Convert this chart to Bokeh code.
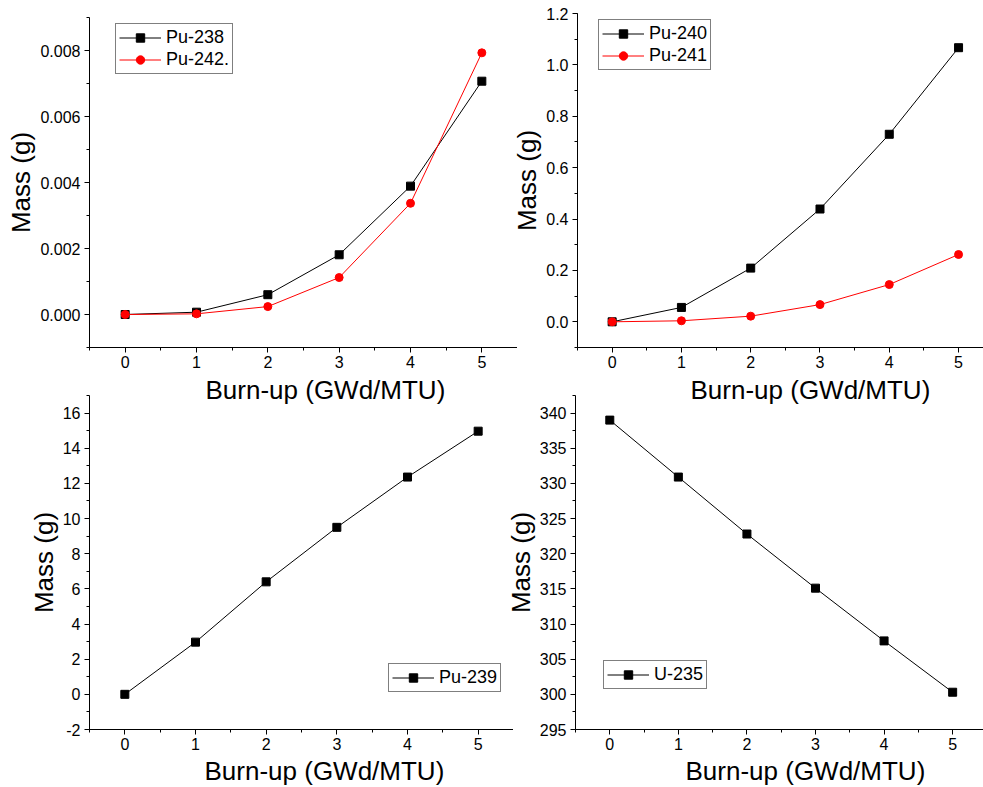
from bokeh.plotting import figure
from bokeh.layouts import column, row
from bokeh.models import Range1d, SingleIntervalTicker, PrintfTickFormatter, Legend, LegendItem, Title
from bokeh.embed import file_html
from bokeh.resources import INLINE

# ---- data ----
burnup = [0, 1, 2, 3, 4, 5]
pu238 = [0.0, 0.00007, 0.00060, 0.00181, 0.00389, 0.00707]
pu242 = [0.0, 0.00002, 0.00024, 0.00112, 0.00337, 0.00793]
pu240 = [0.0, 0.056, 0.209, 0.439, 0.730, 1.067]
pu241 = [0.0, 0.004, 0.022, 0.067, 0.145, 0.262]
pu239 = [0.0, 2.97, 6.40, 9.50, 12.36, 14.97]
u235 = [339.0, 330.9, 322.8, 315.1, 307.6, 300.3]

x_label = "Burn-up (GWd/MTU)"
y_label = "Mass (g)"

FONT = "Liberation Sans"


def make_fig(width, height, xr, yr, borders, y_interval, y_fmt, margin=None,
             xlab_offset=0, xlab_standoff=0):
    left, right, top, bottom = borders
    kw = {}
    if margin is not None:
        kw["margin"] = margin
    p = figure(width=width, height=height,
               x_range=Range1d(*xr), y_range=Range1d(*yr),
               output_backend="svg", toolbar_location=None,
               min_border_left=left, min_border_right=right,
               min_border_top=top, min_border_bottom=bottom, **kw)
    p.outline_line_color = None
    p.background_fill_alpha = 0
    p.border_fill_alpha = 0
    p.xgrid.visible = False
    p.ygrid.visible = False

    xa = p.xaxis[0]
    ya = p.yaxis[0]
    xa.ticker = SingleIntervalTicker(interval=1, num_minor_ticks=2)
    xa.formatter = PrintfTickFormatter(format="%d")
    ya.ticker = SingleIntervalTicker(interval=y_interval, num_minor_ticks=2)
    ya.formatter = PrintfTickFormatter(format=y_fmt)
    ya.axis_label = y_label
    for ax in (xa, ya):
        ax.axis_line_color = "black"
        ax.axis_line_width = 1
        ax.major_tick_line_color = "black"
        ax.minor_tick_line_color = "black"
        ax.major_tick_out = 5
        ax.major_tick_in = 0
        ax.minor_tick_out = 3
        ax.minor_tick_in = 0
        ax.major_label_text_font = FONT
        ax.major_label_text_font_size = "16px"
        ax.major_label_text_color = "black"
        ax.axis_label_text_font = FONT
        ax.axis_label_text_font_size = "26px"
        ax.axis_label_text_font_style = "normal"
        ax.axis_label_text_color = "black"
    xa.major_label_standoff = 3
    ya.major_label_standoff = 4
    ya.axis_label_standoff = 1

    # x-axis title, set off to the right of the frame centre as in the reference
    t = Title(text=x_label, align="left", offset=xlab_offset, standoff=xlab_standoff,
              text_font=FONT, text_font_size="26px", text_font_style="normal",
              text_color="black")
    p.add_layout(t, "below")
    return p


def add_series(p, ys, color, marker):
    ln = p.line(burnup, ys, line_color=color, line_width=1)
    sc = p.scatter(burnup, ys, marker=marker, size=8, fill_color=color, line_color=color)
    return [ln, sc]


def add_legend(p, items, loc):
    lg = Legend(items=items, location=loc, margin=0, padding=3, spacing=1,
                label_text_font=FONT, label_text_font_size="18px",
                label_text_color="black",
                glyph_width=42, glyph_height=21, label_height=21,
                label_standoff=5,
                border_line_color="black", border_line_width=1,
                background_fill_color="white", background_fill_alpha=1)
    p.add_layout(lg)


# ---- top-left: Pu-238 / Pu-242 ----
p1 = make_fig(517, 404, (-0.5, 5.5), (-0.001, 0.0090001), (89, 0, 13, 61), 0.002, "%.3f",
              margin=(4, 0, 0, 0), xlab_offset=116, xlab_standoff=4)
r238 = add_series(p1, pu238, "#000000", "square")
r242 = add_series(p1, pu242, "#ff0000", "circle")
add_legend(p1, [LegendItem(label="Pu-238", renderers=r238),
                LegendItem(label="Pu-242.", renderers=r242)], (26, 273))

# ---- top-right: Pu-240 / Pu-241 ----
p2 = make_fig(474, 408, (-0.5, 5.36), (-0.1, 1.2001), (66, 0, 13, 61), 0.2, "%.1f",
              margin=(0, 0, 0, -8), xlab_offset=113, xlab_standoff=4)
r240 = add_series(p2, pu240, "#000000", "square")
r241 = add_series(p2, pu241, "#ff0000", "circle")
add_legend(p2, [LegendItem(label="Pu-240", renderers=r240),
                LegendItem(label="Pu-241", renderers=r241)], (21, 277))

# ---- bottom-left: Pu-239 ----
p3 = make_fig(513, 397, (-0.5, 5.5), (-2, 17), (89, 0, 5, 58), 2, "%d",
              xlab_offset=115, xlab_standoff=2)
r239 = add_series(p3, pu239, "#000000", "square")
add_legend(p3, [LegendItem(label="Pu-239", renderers=r239)], (299, 37))

# ---- bottom-right: U-235 ----
p4 = make_fig(481, 397, (-0.5, 5.45), (295, 342.5), (72, 0, 5, 58), 5, "%d",
              margin=(0, 0, 0, -11), xlab_offset=110, xlab_standoff=2)
ru = add_series(p4, u235, "#000000", "square")
add_legend(p4, [LegendItem(label="U-235", renderers=ru)], (28, 40))

top_row = row(p1, p2)
bottom_row = row(p3, p4, margin=(-18, 0, 0, 0))
layout = column(top_row, bottom_row)

open("out.html", "w").write(file_html(layout, INLINE))
